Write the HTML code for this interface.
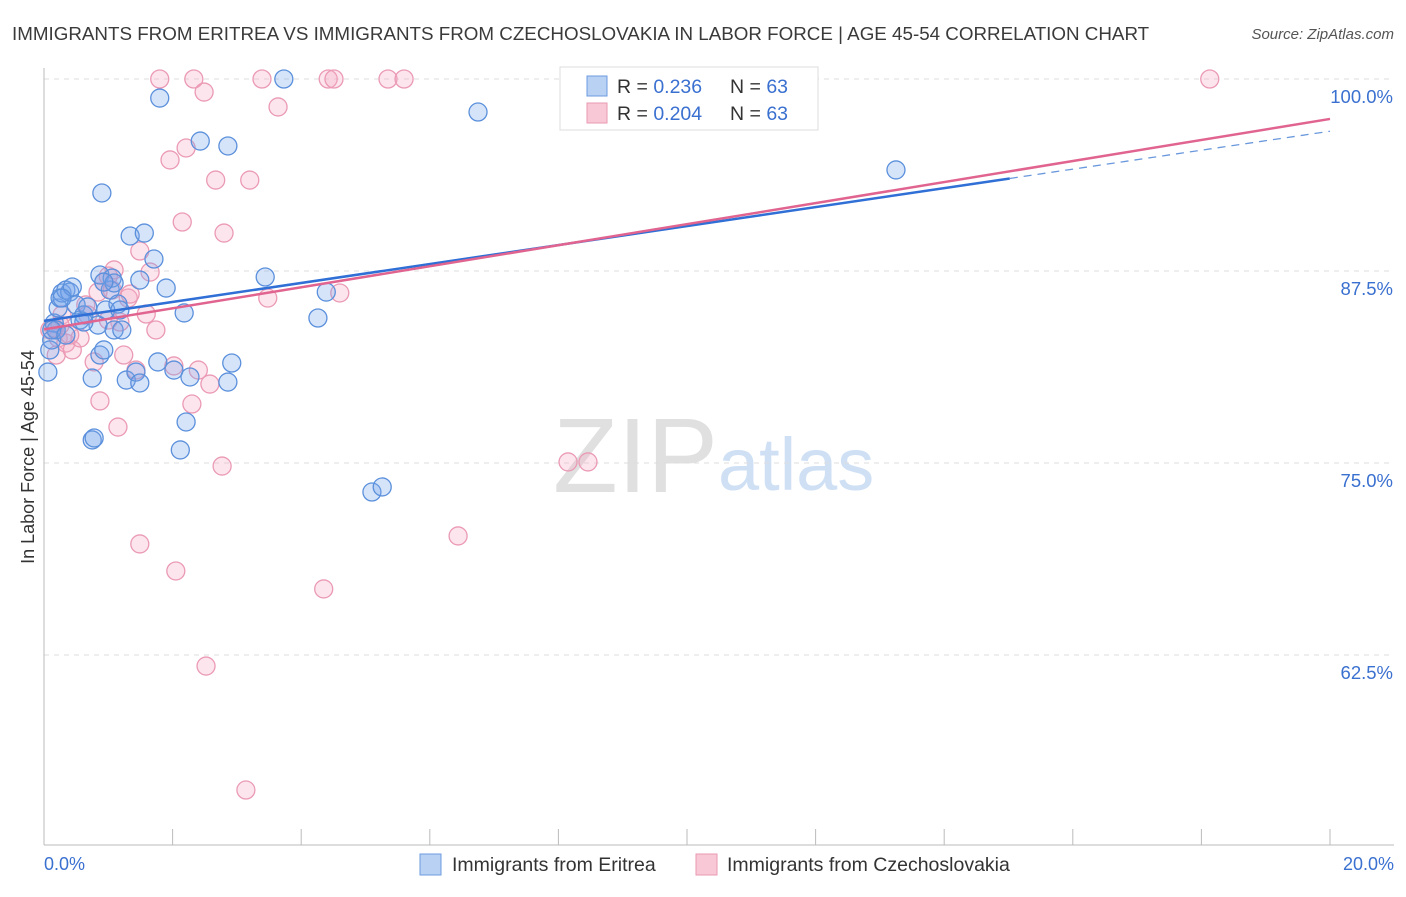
<!DOCTYPE html>
<html><head><meta charset="utf-8"><style>
body{margin:0;background:#fff;font-family:"Liberation Sans",sans-serif;}
svg text{font-family:"Liberation Sans",sans-serif;}
</style></head><body>
<svg id="chart" width="1406" height="892">
<text x="12" y="40" font-size="18.8" fill="#3a3a3a">IMMIGRANTS FROM ERITREA VS IMMIGRANTS FROM CZECHOSLOVAKIA IN LABOR FORCE | AGE 45-54 CORRELATION CHART</text>
<text x="1394" y="39" font-size="15" fill="#555" font-style="italic" text-anchor="end">Source: ZipAtlas.com</text>
<text x="553" y="492" font-size="106" fill="#e0e0e0" font-family="Liberation Serif">ZIP</text>
<text x="718" y="490" font-size="74" fill="#cfe0f5">atlas</text>
<text transform="translate(34,457) rotate(-90)" font-size="18" fill="#333" text-anchor="middle">In Labor Force | Age 45-54</text>
<g id="grid"></g><g id="axes"></g><g id="pts"></g><g id="lines"></g>
<g>
<rect x="560" y="67" width="258" height="63" fill="#fff" stroke="#ddd"/>
<rect x="587" y="76" width="20" height="20" fill="#b9d2f3" stroke="#6d9be0"/>
<rect x="587" y="103" width="20" height="20" fill="#f8c8d6" stroke="#e99ab2"/>
<text x="617" y="93" font-size="19.5" fill="#333">R = <tspan fill="#3a70d0">0.236</tspan><tspan x="730">N = </tspan><tspan fill="#3a70d0">63</tspan></text>
<text x="617" y="120" font-size="19.5" fill="#333">R = <tspan fill="#3a70d0">0.204</tspan><tspan x="730">N = </tspan><tspan fill="#3a70d0">63</tspan></text>
</g>
<text x="44" y="870" font-size="18" fill="#3a70d0">0.0%</text>
<text x="1394" y="870" font-size="18" fill="#3a70d0" text-anchor="end">20.0%</text>
<rect x="420" y="854" width="21" height="21" fill="#b9d2f3" stroke="#6d9be0"/>
<text x="452" y="871" font-size="19.5" fill="#333">Immigrants from Eritrea</text>
<rect x="696" y="854" width="21" height="21" fill="#f8c8d6" stroke="#e99ab2"/>
<text x="727" y="871" font-size="19.5" fill="#333">Immigrants from Czechoslovakia</text>
</svg>
<script>
const yTicks=[100,87.5,75,62.5];
const yTickLabels=["100.0%","87.5%","75.0%","62.5%"];
const blueX=[0.06,0.09,0.12,0.16,0.19,0.22,0.25,0.28,0.34,0.40,0.44,0.50,0.56,0.62,0.68,0.75,0.75,0.78,0.84,0.87,0.90,0.93,0.87,0.96,1.03,1.06,1.09,1.15,1.18,1.21,1.28,1.34,1.43,1.49,1.49,1.56,1.71,1.77,1.80,1.90,2.02,2.12,2.18,2.21,2.27,2.43,2.86,2.86,2.92,3.44,3.73,4.26,4.39,5.10,5.26,6.75,13.25,0.12,0.34,0.62,0.28,1.09,0.93];
const blueY=[80.92,82.36,83.01,84.11,83.66,85.09,85.74,86.07,86.26,86.13,86.46,85.29,84.31,84.64,85.16,80.53,76.50,76.63,83.98,82.03,92.58,82.36,87.24,84.96,86.26,87.04,83.66,85.35,84.96,83.66,80.40,89.78,80.92,86.91,80.21,89.97,88.28,81.58,98.76,86.39,81.05,75.85,84.77,77.67,80.60,95.96,95.64,80.27,81.51,87.11,100,84.44,86.13,73.11,73.44,97.85,94.08,83.66,83.33,84.18,85.74,86.72,86.78];
const pinkX=[0.16,0.19,0.22,0.28,0.34,0.44,0.56,0.65,0.78,0.84,0.87,0.93,1.00,1.06,1.09,1.15,1.18,1.24,1.31,1.43,1.49,1.59,1.65,1.74,1.49,1.80,1.96,2.02,2.05,2.15,2.21,2.30,2.33,2.40,2.49,2.52,2.58,2.67,2.77,2.80,3.14,3.20,3.39,3.48,3.64,4.35,4.42,4.51,4.60,5.35,5.60,6.44,8.15,8.46,18.13,0.09,0.40,0.68,1.34,1.00,0.25];
const pinkY=[83.79,82.03,83.14,84.64,82.81,82.36,83.14,85.29,81.58,86.13,79.04,86.78,87.17,86.26,87.57,77.34,84.18,82.03,85.74,81.05,88.80,84.70,87.43,83.66,69.73,100,94.73,81.32,67.97,90.69,95.51,78.84,100,81.05,99.15,61.78,80.14,93.42,74.80,89.97,53.71,93.42,100,85.74,98.18,66.80,100,100,86.07,100,100,70.25,75.07,75.07,100,83.66,83.33,84.64,86.00,84.31,83.98];
const blueTrend=[84.25,96.6];
const pinkTrend=[83.7,97.4];
const NS="http://www.w3.org/2000/svg";
const X=v=>44+v/20*1286, Y=v=>79+(100-v)/12.5*192;
function mk(t,a,p){const e=document.createElementNS(NS,t);for(const k in a)e.setAttribute(k,a[k]);p.appendChild(e);return e;}
const grid=document.getElementById('grid'),axes=document.getElementById('axes'),pts=document.getElementById('pts'),lines=document.getElementById('lines');
yTicks.forEach((t,i)=>{
 const l=mk('line',{x1:44,x2:1394,y1:Y(t),y2:Y(t),stroke:'#ddd','stroke-dasharray':'5,5'},grid);
 
 
 const tx=mk('text',{x:1393,y:Y(t)+24,'font-size':18.5,fill:'#3a70d0','text-anchor':'end'},grid);
 tx.textContent=yTickLabels[i];
 
 
});
const ax=mk('line',{x1:44,x2:1394,y1:845,y2:845,stroke:'#bbb'},axes);


const ay=mk('line',{x1:44,x2:44,y1:68,y2:845,stroke:'#bbb'},axes);


for(let k=1;k<=10;k++){const t=mk('line',{x1:X(k*2),x2:X(k*2),y1:829,y2:845,stroke:'#bbb'},axes);
 
 }
function dots(xs,ys,fill,stroke,name){xs.forEach((x,i)=>{const c=mk('circle',{cx:X(x),cy:Y(ys[i]),r:9,fill:fill,stroke:stroke,'stroke-width':1.3},pts);
 
 });}
dots(pinkX,pinkY,'rgba(244,170,195,0.3)','#eb9ab4','point-czechoslovakia');
dots(blueX,blueY,'rgba(120,165,235,0.3)','#5b90dc','point-eritrea');
const f=(t,x)=>t[0]+(t[1]-t[0])*x/20;
const b1=mk('line',{x1:X(0),y1:Y(f(blueTrend,0)),x2:X(15.02),y2:Y(f(blueTrend,15.02)),stroke:'#2f6fd6','stroke-width':2.5},lines);


const b2=mk('line',{x1:X(15.02),y1:Y(f(blueTrend,15.02)),x2:X(20),y2:Y(f(blueTrend,20)),stroke:'#6a98dc','stroke-width':1.3,'stroke-dasharray':'8,6'},lines);


const p1=mk('line',{x1:X(0),y1:Y(f(pinkTrend,0)),x2:X(20),y2:Y(f(pinkTrend,20)),stroke:'#e0648f','stroke-width':2.5},lines);


</script>
</body></html>
